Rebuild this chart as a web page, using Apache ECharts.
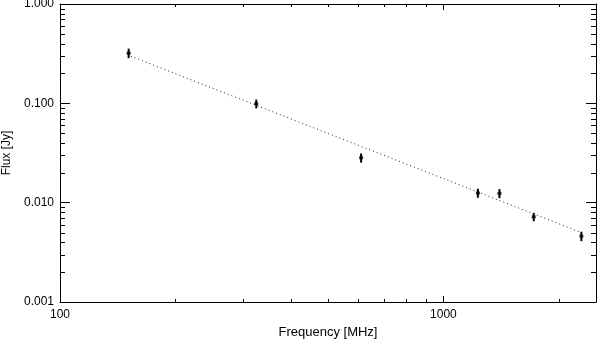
<!DOCTYPE html>
<html>
<head>
<meta charset="utf-8">
<script src="https://cdn.jsdelivr.net/npm/echarts@6/dist/echarts.min.js"></script>
<style>
  html, body { margin: 0; padding: 0; background: #fff; }
  #chart { width: 600px; height: 339px; }
</style>
</head>
<body>
<div id="chart"></div>
<script>
// measured points
const freq = [151, 325, 610, 1230, 1400, 1720, 2290];
const flux = [0.320, 0.099, 0.0283, 0.0125, 0.0124, 0.0072, 0.0046];
const fluxErr = [0.035, 0.010, 0.0030, 0.0013, 0.0013, 0.0007, 0.0005];

// power-law fit (dotted)
const fitFreq = [153, 2290];
const fitFlux = [0.298, 0.0050];

// axes
const xMin = 100, xMax = 2500;
const yMin = 0.001, yMax = 1;
const xLabels = [100, 1000];
const xMinorTicks = [200, 300, 400, 500, 600, 700, 800, 900, 2000];
const yMinorTicks = [
  0.002, 0.003, 0.004, 0.005, 0.006, 0.007, 0.008, 0.009,
  0.02, 0.03, 0.04, 0.05, 0.06, 0.07, 0.08, 0.09,
  0.2, 0.3, 0.4, 0.5, 0.6, 0.7, 0.8, 0.9
];

const font = 'Liberation Sans, Arial, Helvetica, sans-serif';
const chart = echarts.init(document.getElementById('chart'));

function tickSeries(name, values, isX) {
  return {
    name: name,
    type: 'custom',
    silent: true,
    clip: false,
    data: values.map(v => isX ? [v, yMin] : [xMin, v]),
    renderItem: function (params, api) {
      const cs = params.coordSys;
      const p = api.coord([api.value(0), api.value(1)]);
      const style = { stroke: '#000', lineWidth: 1 };
      if (isX) {
        const x = Math.round(p[0]) + 0.5;
        const b = cs.y + cs.height, t = cs.y;
        return { type: 'group', children: [
          { type: 'line', shape: { x1: x, y1: b, x2: x, y2: b - 3 }, style: style },
          { type: 'line', shape: { x1: x, y1: t, x2: x, y2: t + 3 }, style: style }
        ]};
      }
      const y = Math.round(p[1]) + 0.5;
      const l = cs.x, r = cs.x + cs.width;
      return { type: 'group', children: [
        { type: 'line', shape: { x1: l, y1: y, x2: l + 5, y2: y }, style: style },
        { type: 'line', shape: { x1: r, y1: y, x2: r - 5, y2: y }, style: style }
      ]};
    }
  };
}

const axisCommon = {
  type: 'log',
  logBase: 10,
  axisLine: { show: true, onZero: false, lineStyle: { color: '#000', width: 1 } },
  splitLine: { show: false },
  minorTick: { show: false },
  minorSplitLine: { show: false }
};

chart.setOption({
  animation: false,
  backgroundColor: '#fff',
  grid: {
    left: 60, right: 4, top: 4, bottom: 37,
    containLabel: false,
    outerBoundsMode: 'none'
  },
  xAxis: [
    Object.assign({}, axisCommon, {
      min: xMin, max: xMax,
      position: 'bottom',
      axisTick: { show: true, inside: true, length: 6, lineStyle: { color: '#000' } },
      axisLabel: {
        color: '#000', fontSize: 12, fontFamily: font, margin: 7,
        showMaxLabel: false,
        formatter: v => {
          const r = Math.round(v);
          return xLabels.indexOf(r) >= 0 ? String(r) : '';
        }
      },
      name: 'Frequency [MHz]',
      nameLocation: 'middle',
      nameGap: 22,
      nameTextStyle: { color: '#000', fontSize: 13, fontFamily: font }
    }),
    Object.assign({}, axisCommon, {
      min: xMin, max: xMax,
      position: 'top',
      axisTick: { show: true, inside: true, length: 6, lineStyle: { color: '#000' } },
      axisLabel: { show: false }
    })
  ],
  yAxis: [
    Object.assign({}, axisCommon, {
      min: yMin, max: yMax,
      position: 'left',
      axisTick: { show: true, inside: true, length: 10, lineStyle: { color: '#000' } },
      axisLabel: {
        color: '#000', fontSize: 12, fontFamily: font, margin: 6,
        formatter: v => v.toFixed(3)
      },
      name: 'Flux [Jy]',
      nameLocation: 'middle',
      nameGap: 47,
      nameTextStyle: { color: '#000', fontSize: 12, fontFamily: font }
    }),
    Object.assign({}, axisCommon, {
      min: yMin, max: yMax,
      position: 'right',
      axisTick: { show: true, inside: true, length: 10, lineStyle: { color: '#000' } },
      axisLabel: { show: false }
    })
  ],
  series: [
    tickSeries('xMinor', xMinorTicks, true),
    tickSeries('yMinor', yMinorTicks, false),
    {
      name: 'fit',
      type: 'line',
      data: fitFreq.map((f, i) => [f, fitFlux[i]]),
      showSymbol: false,
      symbol: 'none',
      lineStyle: { color: '#222', width: 1, type: [1, 3] },
      z: 2
    },
    {
      name: 'errors',
      type: 'custom',
      data: freq.map((f, i) => [f, flux[i] - fluxErr[i], flux[i] + fluxErr[i]]),
      renderItem: function (params, api) {
        const lo = api.coord([api.value(0), api.value(1)]);
        const hi = api.coord([api.value(0), api.value(2)]);
        return {
          type: 'line',
          shape: { x1: lo[0], y1: lo[1], x2: hi[0], y2: hi[1] },
          style: { stroke: '#000', lineWidth: 2 }
        };
      },
      z: 3
    },
    {
      name: 'flux',
      type: 'scatter',
      data: freq.map((f, i) => [f, flux[i]]),
      symbol: 'rect',
      symbolSize: [4, 3],
      itemStyle: { color: '#000' },
      z: 4
    }
  ]
});
</script>
</body>
</html>
